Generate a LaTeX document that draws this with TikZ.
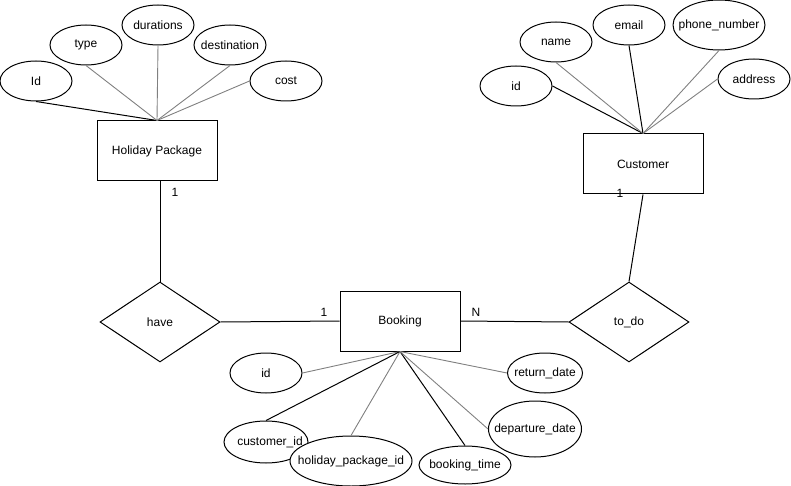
\documentclass[tikz,border=0pt]{standalone}
\usepackage{fontspec}
\setmainfont{Liberation Sans}
\usetikzlibrary{shapes.geometric}

\tikzset{
    entity/.style={draw, rectangle, line width=1pt, minimum width=120, minimum height=60, inner sep=0pt},
    attr/.style={draw, ellipse, fill=white, line width=1pt, minimum width=72, minimum height=40, inner sep=0pt},
    rel/.style={draw, diamond, line width=1pt, minimum width=120, minimum height=80, inner sep=0pt},
    dark/.style={line width=1pt},
    light/.style={line width=0.9pt, gray}
}
\newcommand{\txt}[1]{\makebox[0pt]{#1}}

\begin{document}
\begin{tikzpicture}[x=1pt, y=-1pt, every node/.append style={font=\fontsize{12}{14}\selectfont}]
        \useasboundingbox (0,0) rectangle (791,486);
        \node[entity] (hp) at (157,151) {Holiday Package};
        \node[attr] (hpId) at (36,81) {\txt{Id}};
        \node[attr] (hpType) at (86,45) {\txt{type}};
        \node[attr] (hpDur) at (158,25) {\txt{durations}};
        \node[attr] (hpDest) at (230,45) {\txt{destination}};
        \node[attr] (hpCost) at (286,81) {\txt{cost}};
        \draw[dark] (hpId.south) -- (hp.north);
        \draw[light] (hpType.south) -- (hp.north);
        \draw[light] (hpDur.south) -- (hp.north);
        \draw[light] (hpDest.south) -- (hp.north);
        \draw[light] (hpCost.west) -- (hp.north);

        \node[entity] (cust) at (643,164) {Customer};
        \node[attr] (cId) at (516,86) {\txt{id}};
        \node[attr] (cName) at (556,42) {\txt{name}};
        \node[attr] (cEmail) at (629,25) {\txt{email}};
        \node[attr, minimum width=92, minimum height=50] (cPhone) at (719,25) {\txt{phone\_number}};
        \node[attr] (cAddr) at (754,79) {\txt{address}};
        \draw[dark] (cId.east) -- (cust.north);
        \draw[light] (cName.south) -- (cust.north);
        \draw[dark] (cEmail.south) -- (cust.north);
        \draw[light] (cPhone.south) -- (cust.north);
        \draw[light] (cAddr.west) -- (cust.north);

        \node[rel] (have) at (160,322) {\txt{have}};
        \node[rel] (todo) at (629,322) {\txt{to\_do}};
        \node[entity] (book) at (400,321) {Booking};

        \draw[dark] (have.north) -- (have.north |- hp.south);
        \draw[dark] (have.east) -- (book.west);
        \draw[dark] (book.east) -- (todo.west);
        \draw[dark] (todo.north) -- (cust.south);
        \node (oneHp) at (175,192) {1};
        \node (oneBook) at (324,312) {1};
        \node (nBook) at (476,312) {N};
        \node (oneCust) at (620,193) {1};

        \node[attr] (bId) at (266,373) {\txt{id}};
        \node[attr, minimum width=75] (bRet) at (545,373) {\txt{return\_date}};
        \node[attr, minimum width=93, minimum height=56] (bDep) at (535,429) {\txt{departure\_date}};
        \node[attr, minimum width=92, minimum height=38] (bTime) at (465,465) {\txt{booking\_time}};
        \node[attr, minimum width=84, minimum height=42] (bCust) at (266,442) {\txt{\hspace{8pt}customer\_id}};
        \node[attr, minimum width=122, minimum height=50] (bHpi) at (351,461) {\txt{holiday\_package\_id}};
        \draw[light] (book.south) -- (bId.east);
        \draw[dark] (book.south) -- (bCust.north);
        \draw[light] (book.south) -- (bHpi.north);
        \draw[dark] (book.south) -- (bTime.north);
        \draw[light] (book.south) -- (bDep.west);
        \draw[light] (book.south) -- (bRet.west);
    \end{tikzpicture}
\end{document}
